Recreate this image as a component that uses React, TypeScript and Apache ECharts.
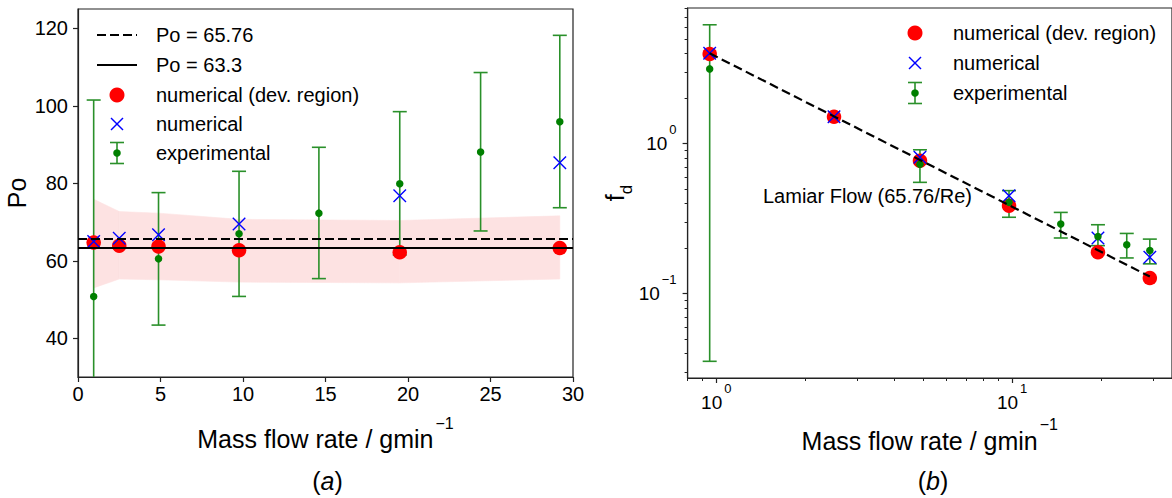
import React, { useEffect, useRef } from 'react';
import * as echarts from 'echarts';

const FONT = '"Liberation Sans", Arial, Helvetica, sans-serif';

// ---------- Panel (a): Po vs mass flow rate ----------
const xNum = [0.95, 2.5, 4.88, 9.76, 19.5, 29.2];
const poDev = [64.7, 63.9, 63.7, 62.7, 62.2, 63.3];
const poNum = [65.0, 65.8, 66.7, 69.5, 76.8, 85.3];
const bandUpper = [75.9, 72.7, 72.3, 70.7, 70.4, 71.6];
const bandLower = [53.0, 55.3, 55.1, 54.5, 54.3, 55.3];

const xExp = [0.95, 4.88, 9.76, 14.6, 19.5, 24.4, 29.2];
const poExp = [50.8, 60.5, 67.0, 72.3, 79.9, 88.1, 95.9];
const poExpLow = [0.1, 43.4, 50.8, 55.4, 61.5, 67.7, 73.7];
const poExpHigh = [101.5, 77.6, 83.1, 89.3, 98.5, 108.6, 118.2];

const poRefDashed = 65.76;
const poRefSolid = 63.3;

const poTicks = [40, 60, 80, 100, 120];

// ---------- Panel (b): f_d vs mass flow rate (log-log) ----------
const fdDev = [3.96, 1.51, 0.77, 0.386, 0.189, 0.127];
const fdNum = [4.0, 1.51, 0.81, 0.45, 0.235, 0.175];
const fdExp = [3.15, 0.73, 0.406, 0.291, 0.24, 0.212, 0.194];
const fdExpLow = [0.0354, 0.552, 0.323, 0.235, 0.209, 0.173, 0.158];
const fdExpHigh = [6.2, 0.91, 0.486, 0.348, 0.288, 0.252, 0.231];
const lamX = [0.95, 29.2];
const lamY = [4.0, 0.13];

const logXMajor = [1, 10];
const logXMinor = [0.8, 0.9, 2, 3, 4, 5, 6, 7, 8, 9, 20, 30];
const logYMajor = [0.1, 1];
const logYMinor = [0.03, 0.04, 0.05, 0.06, 0.07, 0.08, 0.09, 0.2, 0.3, 0.4, 0.5, 0.6, 0.7, 0.8, 0.9, 2, 3, 4, 5, 6, 7, 8];

const RED = '#ff0000';
const BLUE = '#0000ff';
const GREEN = '#008000';
const GREEN_BAR = '#2a902a';
const AX = '#222222';

const errorBarRender = (capHalf: number) => (params: any, api: any) => {
  const x = api.value(0);
  const lo = api.coord([x, api.value(1)]);
  const hi = api.coord([x, api.value(2)]);
  const style = { stroke: GREEN_BAR, lineWidth: 1.6, fill: 'none' };
  return {
    type: 'group',
    children: [
      { type: 'line', shape: { x1: lo[0], y1: lo[1], x2: hi[0], y2: hi[1] }, style },
      { type: 'line', shape: { x1: lo[0] - capHalf, y1: lo[1], x2: lo[0] + capHalf, y2: lo[1] }, style },
      { type: 'line', shape: { x1: hi[0] - capHalf, y1: hi[1], x2: hi[0] + capHalf, y2: hi[1] }, style },
    ],
  };
};

const supLabel = (v: number) => {
  const e = Math.round(Math.log10(v));
  return '{n|10}{s|' + (e < 0 ? '\u2212' + -e : String(e)) + '}';
};

const axisLineStyle = { color: AX, width: 1.2 };

export default function App() {
  const ref = useRef<HTMLDivElement>(null);

  useEffect(() => {
    const chart = echarts.init(ref.current!, null, { renderer: 'svg' });

    const tickLabelText = { color: '#000', fontSize: 20, fontFamily: FONT };
    const logRich = {
      n: { fontSize: 19, fontFamily: FONT, color: '#000' },
      s: { fontSize: 13, fontFamily: FONT, color: '#000', padding: [0, 0, 28, 2] },
    };
    const titleRich = {
      a: { fontSize: 25, fontFamily: FONT, color: '#000' },
      s: { fontSize: 16, fontFamily: FONT, color: '#000', padding: [0, 0, 32, 2] },
    };

    // legend helpers (drawn with graphic primitives)
    const legText = (x: number, y: number, text: string) => ({
      type: 'text',
      style: { text, x, y, fill: '#000', fontSize: 20, fontFamily: FONT, align: 'left', verticalAlign: 'middle', textAlign: 'left', textVerticalAlign: 'middle' },
    });
    const legLine = (x1: number, x2: number, y: number, dashed: boolean) => ({
      type: 'line',
      shape: { x1, y1: y, x2, y2: y },
      style: { stroke: '#000', lineWidth: 2.2, lineDash: dashed ? [9, 4] : null },
    });
    const legCircle = (cx: number, cy: number) => ({ type: 'circle', shape: { cx, cy, r: 7.5 }, style: { fill: RED } });
    const legCross = (cx: number, cy: number) => ({
      type: 'group',
      children: [
        { type: 'line', shape: { x1: cx - 6, y1: cy - 6, x2: cx + 6, y2: cy + 6 }, style: { stroke: BLUE, lineWidth: 1.4 } },
        { type: 'line', shape: { x1: cx + 6, y1: cy - 6, x2: cx - 6, y2: cy + 6 }, style: { stroke: BLUE, lineWidth: 1.4 } },
      ],
    });
    const legErr = (cx: number, cy: number) => ({
      type: 'group',
      children: [
        { type: 'line', shape: { x1: cx, y1: cy - 10.5, x2: cx, y2: cy + 10.5 }, style: { stroke: GREEN_BAR, lineWidth: 1.6 } },
        { type: 'line', shape: { x1: cx - 7, y1: cy - 10.5, x2: cx + 7, y2: cy - 10.5 }, style: { stroke: GREEN_BAR, lineWidth: 1.6 } },
        { type: 'line', shape: { x1: cx - 7, y1: cy + 10.5, x2: cx + 7, y2: cy + 10.5 }, style: { stroke: GREEN_BAR, lineWidth: 1.6 } },
        { type: 'circle', shape: { cx, cy, r: 3.8 }, style: { fill: GREEN } },
      ],
    });

    const option: any = {
      animation: false,
      backgroundColor: '#ffffff',
      grid: [
        { left: 78, top: 9, width: 495, height: 368, show: true, borderColor: AX, borderWidth: 1.2, backgroundColor: 'transparent' },
        { left: 687.6, top: 8, width: 496, height: 370, show: true, borderColor: AX, borderWidth: 1.2, backgroundColor: 'transparent' },
      ],
      xAxis: [
        {
          gridIndex: 0, type: 'value', min: 0, max: 30, interval: 5,
          axisLine: { show: true, onZero: false, lineStyle: axisLineStyle },
          axisTick: { show: true, length: 5, lineStyle: axisLineStyle },
          axisLabel: { ...tickLabelText, margin: 7 },
          splitLine: { show: false },
          name: '{a|Mass flow rate / gmin}{s|\u22121}', nameLocation: 'middle', nameGap: 62,
          nameTextStyle: { verticalAlign: 'middle', rich: titleRich },
        },
        {
          gridIndex: 1, type: 'log', min: 0.8, max: 34.7, position: 'bottom',
          axisLine: { show: true, onZero: false, lineStyle: axisLineStyle },
          axisTick: { show: true, length: 5, customValues: logXMajor, lineStyle: axisLineStyle },
          axisLabel: { customValues: logXMajor, formatter: supLabel, rich: logRich, margin: 4, color: '#000' },
          splitLine: { show: false },
          name: '{a|Mass flow rate / gmin}{s|\u22121}', nameLocation: 'middle', nameGap: 62,
          nameTextStyle: { verticalAlign: 'middle', rich: titleRich },
        },
        {
          gridIndex: 1, type: 'log', min: 0.8, max: 34.7, position: 'bottom',
          axisLine: { show: false },
          axisTick: { show: true, length: 3, customValues: logXMinor, lineStyle: { color: AX, width: 1 } },
          axisLabel: { show: false },
          splitLine: { show: false },
        },
      ],
      yAxis: [
        {
          gridIndex: 0, type: 'value', min: 30, max: 125,
          axisLine: { show: true, onZero: false, lineStyle: axisLineStyle },
          axisTick: { show: true, length: 5, customValues: poTicks, lineStyle: axisLineStyle },
          axisLabel: { ...tickLabelText, margin: 10, customValues: poTicks },
          splitLine: { show: false },
          name: 'Po', nameLocation: 'middle', nameGap: 61, nameRotate: 90,
          nameTextStyle: { verticalAlign: 'middle', fontSize: 25, fontFamily: FONT, color: '#000' },
        },
        {
          gridIndex: 1, type: 'log', min: 0.0274, max: 8.02, position: 'left',
          axisLine: { show: true, onZero: false, lineStyle: axisLineStyle },
          axisTick: { show: true, length: 5, customValues: logYMajor, lineStyle: axisLineStyle },
          axisLabel: { customValues: logYMajor, formatter: supLabel, rich: logRich, margin: 11, color: '#000' },
          splitLine: { show: false },
          name: '{f|f}{d|d}', nameLocation: 'middle', nameGap: 67, nameRotate: 90,
          nameTextStyle: {
            verticalAlign: 'middle',
            rich: {
              f: { fontSize: 25, fontFamily: FONT, color: '#000' },
              d: { fontSize: 17, fontFamily: FONT, color: '#000', padding: [22, 0, 0, 0] },
            },
          },
        },
        {
          gridIndex: 1, type: 'log', min: 0.0274, max: 8.02, position: 'left',
          axisLine: { show: false },
          axisTick: { show: true, length: 3, customValues: logYMinor, lineStyle: { color: AX, width: 1 } },
          axisLabel: { show: false },
          splitLine: { show: false },
        },
      ],
      series: [
        // ----- panel (a) -----
        {
          name: 'band', type: 'custom', xAxisIndex: 0, yAxisIndex: 0, clip: true, silent: true,
          data: xNum.map((x, i) => [x, bandLower[i], bandUpper[i]]),
          encode: { x: 0, y: [1, 2] },
          renderItem: (params: any, api: any) => {
            const i = params.dataIndex;
            if (i === 0) return null;
            const a1 = api.coord([xNum[i - 1], bandUpper[i - 1]]);
            const b1 = api.coord([xNum[i], bandUpper[i]]);
            const b2 = api.coord([xNum[i], bandLower[i]]);
            const a2 = api.coord([xNum[i - 1], bandLower[i - 1]]);
            return {
              type: 'polygon',
              shape: { points: [a1, b1, b2, a2] },
              style: { fill: '#fde2e2', stroke: '#fde2e2', lineWidth: 0.6 },
            };
          },
          markLine: {
            silent: true, symbol: ['none', 'none'], label: { show: false },
            data: [
              { yAxis: poRefDashed, lineStyle: { color: '#000', width: 2.2, type: [9, 4] } },
              { yAxis: poRefSolid, lineStyle: { color: '#000', width: 2.2, type: 'solid' } },
            ],
          },
        },
        {
          name: 'experimental bars', type: 'custom', xAxisIndex: 0, yAxisIndex: 0, clip: true,
          data: xExp.map((x, i) => [x, poExpLow[i], poExpHigh[i]]),
          encode: { x: 0, y: [1, 2] },
          renderItem: errorBarRender(7),
        },
        {
          name: 'experimental', type: 'scatter', xAxisIndex: 0, yAxisIndex: 0,
          data: xExp.map((x, i) => [x, poExp[i]]),
          symbol: 'circle', symbolSize: 7.5, itemStyle: { color: GREEN, opacity: 1 },
        },
        {
          name: 'numerical (dev. region)', type: 'scatter', xAxisIndex: 0, yAxisIndex: 0,
          data: xNum.map((x, i) => [x, poDev[i]]),
          symbol: 'circle', symbolSize: 14.5, itemStyle: { color: RED, opacity: 1 },
        },
        {
          name: 'numerical', type: 'scatter', xAxisIndex: 0, yAxisIndex: 0,
          data: xNum.map((x, i) => [x, poNum[i]]),
          symbol: 'path://M0 0L10 10M10 0L0 10', symbolSize: 12.5,
          itemStyle: { color: 'transparent', borderColor: BLUE, borderWidth: 1.4, opacity: 1 },
        },
        // ----- panel (b) -----
        {
          name: 'Lamiar Flow', type: 'line', xAxisIndex: 1, yAxisIndex: 1,
          data: lamX.map((x, i) => [x, lamY[i]]),
          symbol: 'none', lineStyle: { color: '#000', width: 2.2, type: [9, 4.5] },
        },
        {
          name: 'numerical (dev. region) b', type: 'scatter', xAxisIndex: 1, yAxisIndex: 1,
          data: xNum.map((x, i) => [x, fdDev[i]]),
          symbol: 'circle', symbolSize: 14.5, itemStyle: { color: RED, opacity: 1 },
        },
        {
          name: 'numerical b', type: 'scatter', xAxisIndex: 1, yAxisIndex: 1,
          data: xNum.map((x, i) => [x, fdNum[i]]),
          symbol: 'path://M0 0L10 10M10 0L0 10', symbolSize: 12.5,
          itemStyle: { color: 'transparent', borderColor: BLUE, borderWidth: 1.4, opacity: 1 },
        },
        {
          name: 'experimental bars b', type: 'custom', xAxisIndex: 1, yAxisIndex: 1, clip: true,
          data: xExp.map((x, i) => [x, fdExpLow[i], fdExpHigh[i]]),
          encode: { x: 0, y: [1, 2] },
          renderItem: errorBarRender(7),
        },
        {
          name: 'experimental b', type: 'scatter', xAxisIndex: 1, yAxisIndex: 1,
          data: xExp.map((x, i) => [x, fdExp[i]]),
          symbol: 'circle', symbolSize: 7.5, itemStyle: { color: GREEN, opacity: 1 },
        },
      ],
      graphic: [
        // legend (a)
        legLine(97, 137, 35, true), legText(156, 35, 'Po = 65.76'),
        legLine(97, 137, 65, false), legText(156, 65, 'Po = 63.3'),
        legCircle(117, 95), legText(156, 95, 'numerical (dev. region)'),
        legCross(117, 124), legText(156, 124, 'numerical'),
        legErr(117, 153), legText(156, 153, 'experimental'),
        // legend (b)
        legCircle(915, 33), legText(953, 33, 'numerical (dev. region)'),
        legCross(915, 63), legText(953, 63, 'numerical'),
        legErr(915, 93), legText(953, 93, 'experimental'),
        // annotation
        legText(763, 196, 'Lamiar Flow (65.76/Re)'),
        // panel captions
        {
          type: 'text',
          style: {
            text: '{p|(}{i|a}{p|)}', x: 327.5, y: 481, align: 'center', verticalAlign: 'middle', textAlign: 'center', textVerticalAlign: 'middle',
            rich: { p: { fontSize: 25, fontFamily: FONT, fill: '#000' }, i: { fontSize: 25, fontFamily: FONT, fontStyle: 'italic', fill: '#000' } },
          },
        },
        {
          type: 'text',
          style: {
            text: '{p|(}{i|b}{p|)}', x: 933, y: 481, align: 'center', verticalAlign: 'middle', textAlign: 'center', textVerticalAlign: 'middle',
            rich: { p: { fontSize: 25, fontFamily: FONT, fill: '#000' }, i: { fontSize: 25, fontFamily: FONT, fontStyle: 'italic', fill: '#000' } },
          },
        },
      ],
    };

    chart.setOption(option);
    return () => chart.dispose();
  }, []);

  return (
    <div
      ref={ref}
      style={{ position: 'fixed', left: 0, top: 0, width: 1172, height: 498, background: '#fff' }}
    />
  );
}
